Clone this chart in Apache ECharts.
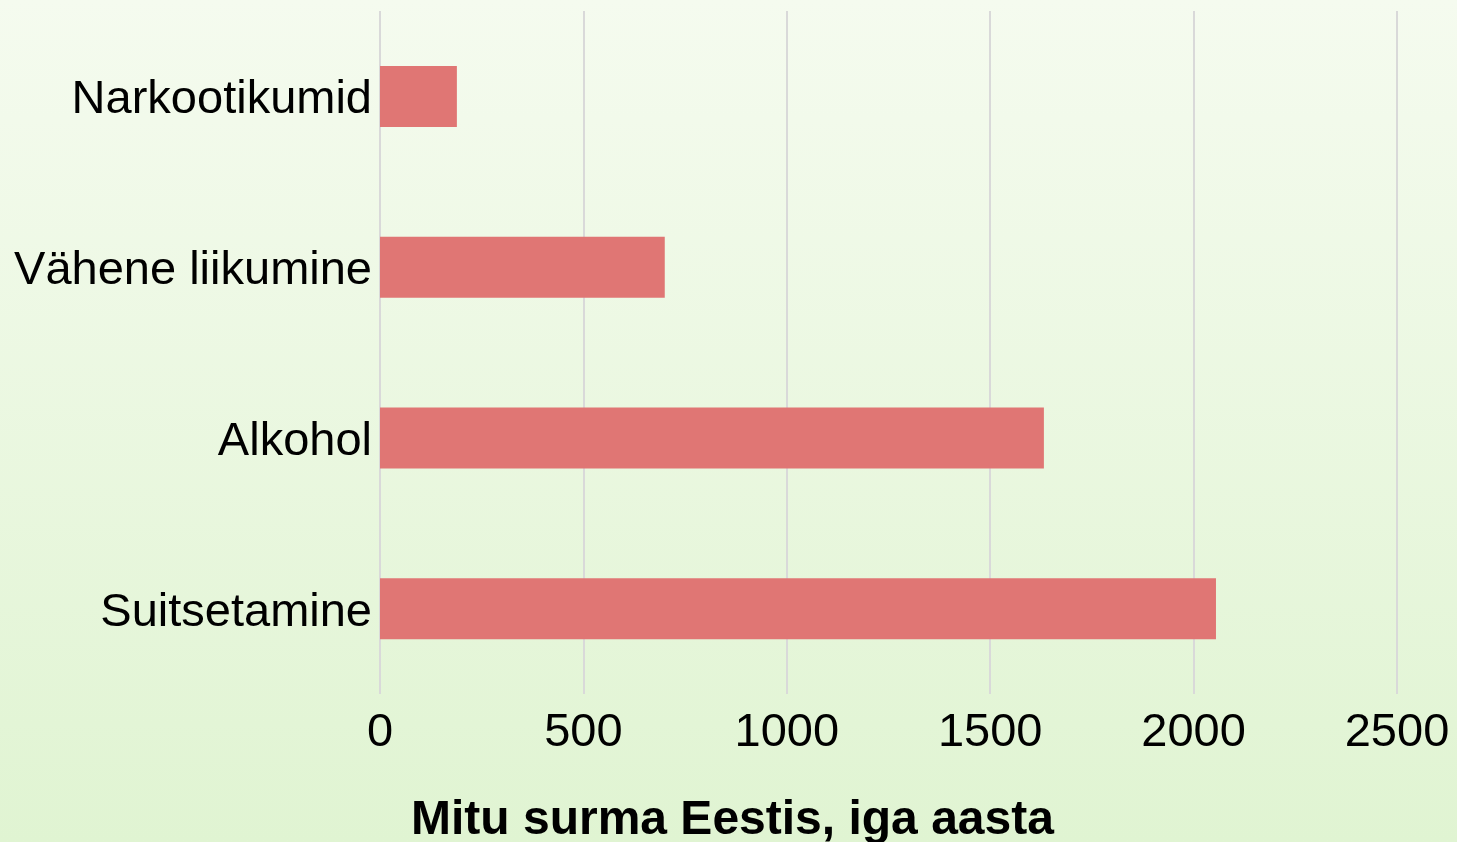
<!DOCTYPE html>
<html>
<head>
<meta charset="utf-8">
<script src="https://cdn.jsdelivr.net/npm/echarts@6/dist/echarts.min.js"></script>
<style>
  html, body { margin: 0; padding: 0; }
  #chart { width: 1457px; height: 842px; }
</style>
</head>
<body>
<div id="chart"></div>
<script>
// 数据
const causes = ['Narkootikumid', 'Vähene liikumine', 'Alkohol', 'Suitsetamine'];
const deaths = [189, 700, 1632, 2055];
const xTicks = [0, 500, 1000, 1500, 2000, 2500];

const chart = echarts.init(document.getElementById('chart'), null, { renderer: 'canvas' });

chart.setOption({
  backgroundColor: new echarts.graphic.LinearGradient(0, 0, 0, 1, [
    { offset: 0, color: '#f5fbef' },
    { offset: 1, color: '#e0f4d2' }
  ]),
  textStyle: { fontFamily: 'Liberation Sans' },
  title: {
    text: 'Mitu surma Eestis, iga aasta',
    left: 406,
    top: 792,
    textStyle: {
      fontFamily: 'Liberation Sans',
      fontSize: 48,
      fontWeight: 'bold',
      color: '#000'
    }
  },
  grid: { left: 380, right: 60, top: 11, bottom: 148 },
  xAxis: {
    type: 'value',
    min: xTicks[0],
    max: xTicks[xTicks.length - 1],
    interval: 500,
    axisLine: { show: false },
    axisTick: { show: false },
    axisLabel: {
      color: '#000',
      fontSize: 47,
      margin: 16,
      fontFamily: 'Liberation Sans',
      formatter: (v) => String(v)
    },
    splitLine: { lineStyle: { color: '#d9d9d9', width: 2 } }
  },
  yAxis: {
    type: 'category',
    inverse: true,
    data: causes,
    axisLine: { show: false },
    axisTick: { show: false },
    axisLabel: {
      color: '#000',
      fontSize: 47,
      margin: 8,
      verticalAlign: 'top',
      lineHeight: 8,
      fontFamily: 'Liberation Sans'
    }
  },
  series: [
    {
      type: 'bar',
      data: deaths,
      barWidth: 61,
      itemStyle: { color: '#e07674' }
    }
  ]
});
</script>
</body>
</html>
